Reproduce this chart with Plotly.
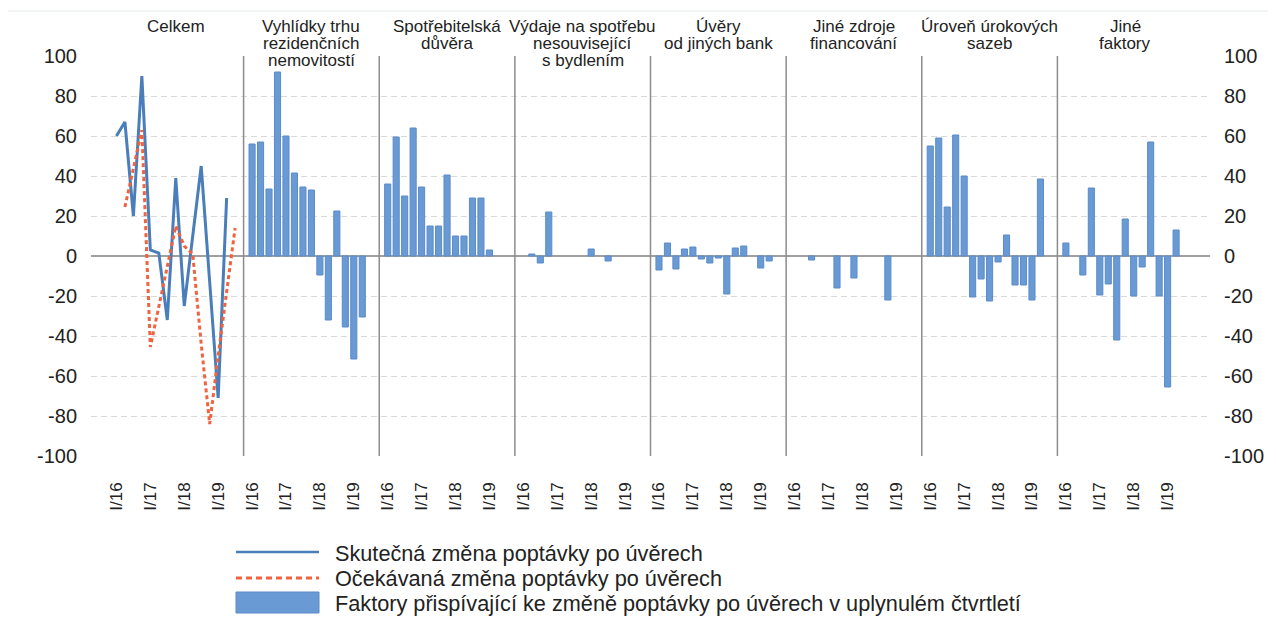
import plotly.graph_objects as go

# ---------------- data ----------------
quarters = ["I/16", "II/16", "III/16", "IV/16", "I/17", "II/17", "III/17", "IV/17",
            "I/18", "II/18", "III/18", "IV/18", "I/19", "II/19"]
tick_labels = ["I/16", "I/17", "I/18", "I/19"]

panel_titles = [
    ["Celkem"],
    ["Vyhlídky trhu", "rezidenčních", "nemovitostí"],
    ["Spotřebitelská", "důvěra"],
    ["Výdaje na spotřebu", "nesouvisející", "s bydlením"],
    ["Úvěry", "od jiných bank"],
    ["Jiné zdroje", "financování"],
    ["Úroveň úrokových", "sazeb"],
    ["Jiné", "faktory"],
]

# Celkem panel: actual and expected change of demand
actual_change = [60, 67, 20, 90, 3, 1.5, -32, 39, -25, 10, 45, -13, -71, 29]
expected_change = [24.5, 44, 63, -45.5, -25, -5, 15, 5, 1, -44, -84, -50, -18, 14]

# factor panels (one value per quarter, None = no bar)
f_vyhlidky = [56, 57, 33.5, 92, 60, 41.5, 34.5, 33, -9.5, -32, 22.5, -35.5, -51.5, -30.5]
f_duvera = [36, 59.5, 30, 64, 34.5, 15, 15, 40.5, 10, 10, 29, 29, 3, None]
f_vydaje = [None, 1, -3.5, 22, None, None, None, None, 3.5, None, -2.5, None, None, None]
f_uvery = [-7, 6.5, -6.5, 3.5, 4.5, -1.5, -3.5, -1, -19, 4, 5, None, -6, -2.5]
f_zdroje = [None, None, -2, None, None, -16, None, -11, None, None, None, -22, None, None]
f_sazby = [55, 59, 24.5, 60.5, 40, -20.5, -11.5, -22.5, -3, 10.5, -14.5, -14.5, -22, 38.5]
f_jine = [6.5, None, -9.5, 34, -19.5, -14, -42, 18.5, -20, -5.5, 57, -20, -65.5, 13]

factor_panels = [f_vyhlidky, f_duvera, f_vydaje, f_uvery, f_zdroje, f_sazby, f_jine]

y_ticks = [-100, -80, -60, -40, -20, 0, 20, 40, 60, 80, 100]
y_tick_text = ["-100", "-80", "-60", "-40", "-20", "0", "20", "40", "60", "80", "100"]

legend_names = [
    "Skutečná změna poptávky po úvěrech",
    "Očekávaná změna poptávky po úvěrech",
    "Faktory přispívající ke změně poptávky po úvěrech v uplynulém čtvrtletí",
]

# ---------------- layout helpers ----------------
OFF = 8  # page body margin
W, H = 1276 - OFF, 617 - OFF
ML, MT = 91 - OFF, 56 - OFF
PW, PH = 1119, 400
MR, MB = W - ML - PW, H - MT - PH
SLOTS = 16  # categories per panel (separator slot + 14 quarters + gap)
FONT = "Liberation Sans, Arial, sans-serif"
TXT = "#222222"
BLUE = "#4A7EBB"
RED = "#EF6341"
BAR = "#6A9AD4"
BAR_LINE = "#5A8BCB"


def px_x(px):
    return (px - OFF - ML) / PW


def px_y(py):
    return (H - MB - (py - OFF)) / PH


def pos(panel, q):
    return panel * SLOTS + 1 + q


fig = go.Figure()

# bars for factor panels
bx, by = [], []
for p, vals in enumerate(factor_panels, start=1):
    for q, v in enumerate(vals):
        if v is not None:
            bx.append(pos(p, q))
            by.append(v)
fig.add_trace(go.Bar(x=bx, y=by, width=0.72, marker=dict(color=BAR, line=dict(color=BAR_LINE, width=1)),
                     name=legend_names[2], showlegend=False))

# lines in Celkem panel
fig.add_trace(go.Scatter(x=[pos(0, q) for q in range(len(actual_change))], y=actual_change,
                         mode="lines", line=dict(color=BLUE, width=3), name=legend_names[0],
                         showlegend=False))
fig.add_trace(go.Scatter(x=[pos(0, q + 1) for q in range(len(expected_change))], y=expected_change,
                         mode="lines", line=dict(color=RED, width=3, dash="4px,3px"),
                         name=legend_names[1], showlegend=False))

# invisible traces for extra y axes
fig.add_trace(go.Scatter(x=[0], y=[0], yaxis="y2", mode="markers", marker=dict(opacity=0),
                         showlegend=False, hoverinfo="skip"))
fig.add_trace(go.Scatter(x=[0], y=[0], yaxis="y3", mode="markers", marker=dict(opacity=0),
                         showlegend=False, hoverinfo="skip"))

shapes = []
# panel separators
for p in range(1, len(panel_titles)):
    shapes.append(dict(type="line", xref="x", yref="y", x0=p * SLOTS, x1=p * SLOTS, y0=-100, y1=100,
                       line=dict(color="#8C8C8C", width=1.5), layer="above"))
# thin top border line
shapes.append(dict(type="line", xref="paper", yref="paper", x0=px_x(0), x1=px_x(1276), y0=px_y(11), y1=px_y(11),
                   line=dict(color="#E3EAEC", width=1)))

annotations = []
# panel titles
line_y = [27, 44, 61]
for p, lines in enumerate(panel_titles):
    for i, t in enumerate(lines):
        annotations.append(dict(text=t, x=p * SLOTS + 8, xref="x", y=px_y(line_y[i]), yref="paper",
                                showarrow=False, xanchor="center", yanchor="middle",
                                font=dict(family=FONT, size=17, color=TXT)))

# manual legend
lx0, lx1 = px_x(236), px_x(319)
shapes.append(dict(type="line", xref="paper", yref="paper", x0=lx0, x1=lx1, y0=px_y(552), y1=px_y(552),
                   line=dict(color=BLUE, width=2.6)))
shapes.append(dict(type="line", xref="paper", yref="paper", x0=lx0, x1=lx1, y0=px_y(578), y1=px_y(578),
                   line=dict(color=RED, width=3, dash="6px,4px")))
shapes.append(dict(type="rect", xref="paper", yref="paper", x0=lx0, x1=lx1, y0=px_y(613), y1=px_y(592),
                   fillcolor=BAR, line=dict(color=BAR_LINE, width=1)))
for i, (name, py) in enumerate(zip(legend_names, [553, 578, 603])):
    annotations.append(dict(text=name, x=px_x(333), xref="paper", y=px_y(py), yref="paper",
                            showarrow=False, xanchor="left", yanchor="middle",
                            font=dict(family=FONT, size=21.7, color=TXT)))

tickvals = []
ticktext = []
for p in range(len(panel_titles)):
    for lab in tick_labels:
        tickvals.append(pos(p, quarters.index(lab)))
        ticktext.append(lab)

grid_ticks = [v for v in y_ticks if abs(v) < 100 and v != 0]

fig.update_layout(
    width=W, height=H,
    margin=dict(l=ML, r=MR, t=MT, b=MB, pad=0),
    paper_bgcolor="white", plot_bgcolor="white",
    font=dict(family=FONT, color=TXT),
    showlegend=False,
    bargap=0.3,
    xaxis=dict(range=[-2, 130], showgrid=False, zeroline=False, showline=False,
               tickmode="array", tickvals=tickvals, ticktext=ticktext, tickangle=-90,
               tickfont=dict(family=FONT, size=17, color=TXT), ticks="", ticklabelstandoff=22),
    yaxis=dict(range=[-100, 100], tickmode="array", tickvals=y_ticks, ticktext=y_tick_text, showgrid=False,
               zeroline=True, zerolinecolor="#A0A0A0", zerolinewidth=2, showline=False,
               tickfont=dict(family=FONT, size=20, color=TXT), ticks="", ticklabelstandoff=13),
    yaxis2=dict(range=[-100, 100], overlaying="y", side="right", tickmode="array", tickvals=y_ticks,
                ticktext=y_tick_text, showgrid=False, zeroline=False, showline=False,
                tickfont=dict(family=FONT, size=20, color=TXT), ticks="", ticklabelstandoff=13),
    yaxis3=dict(range=[-100, 100], overlaying="y", side="left", tickmode="array", tickvals=grid_ticks,
                showgrid=True, gridcolor="#D9D9D9", gridwidth=1.3, griddash="6px,4px",
                zeroline=False, showline=False, showticklabels=False, ticks=""),
    shapes=shapes,
    annotations=annotations,
)

fig.write_html("out.html")
